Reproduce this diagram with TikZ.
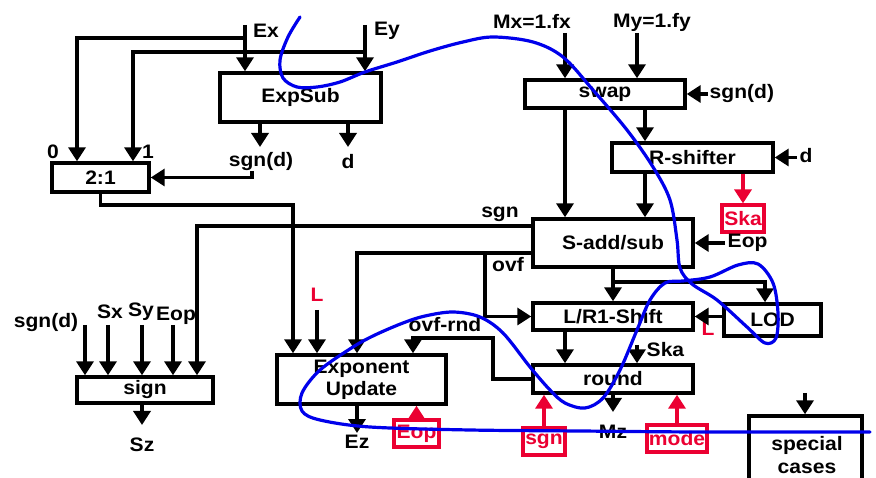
\documentclass[tikz,border=0pt]{standalone}
\usepackage{fontspec}
\setmainfont{Liberation Sans}[FakeStretch=1.08]
\usetikzlibrary{arrows.meta}
\definecolor{myred}{RGB}{235,0,50}
\definecolor{myblue}{RGB}{0,0,235}
\begin{document}
\begin{tikzpicture}[x=1pt,y=-1pt,
  line width=3.4pt,
  font=\fontsize{19.5}{21}\selectfont\bfseries,
  box/.style={draw, rectangle, inner sep=0pt},
  rbox/.style={draw=myred, text=myred, rectangle, inner sep=0pt, line width=3.2pt, minimum height=27pt},
  arr/.style={-{Triangle[width=17pt,length=14pt]}},
  rarr/.style={-{Triangle[width=17pt,length=14pt]}, draw=myred, fill=myred},
  lbl/.style={inner sep=0pt},
  rlbl/.style={inner sep=0pt, text=myred},
  scribble/.style={draw=myblue, line width=3.2pt, line join=round, line cap=round}]
\clip (0,0) rectangle (876,478);
\fill[white] (0,0) rectangle (876,478);
% ---------- boxes ----------
\node[box, minimum width=161pt, minimum height=49pt] (expsub) at (300.5,97.5) {ExpSub};
\node[box, minimum width=97pt, minimum height=29pt] (mux) at (100.5,177.5) {2:1};
\node[box, minimum width=160pt, minimum height=28pt] (swap) at (605,94) {swap};
\node[box, minimum width=161pt, minimum height=29pt] (rshift) at (692.5,157.5) {R-shifter};
\node[box, minimum width=160pt, minimum height=48pt] (sadd) at (613,243) {S-add/sub};
\node[box, minimum width=160pt, minimum height=27pt] (lr1) at (613,316.5) {L/R1-Shift};
\node[box, minimum width=97pt, minimum height=32pt] (lod) at (772.5,320) {LOD};
\node[box, minimum width=160pt, minimum height=28pt] (round) at (613,379) {round};
\node[box, minimum width=169pt, minimum height=49pt, align=center, font=\fontsize{19.5}{22}\selectfont\bfseries] (expupd) at (361.5,379.5) {Exponent\\Update};
\node[box, minimum width=136pt, minimum height=26pt] (sign) at (145,390) {sign};
\node[box, minimum width=113pt, minimum height=84pt] (special) at (805.5,458) {};
\node[lbl, align=center, font=\fontsize{19.5}{23}\selectfont\bfseries] (speciallbl) at (807,455) {special\\cases};
\node[rbox, minimum width=42pt] (skabox) at (743,218.5) {Ska};
\node[rbox, minimum width=45pt] (eopbox) at (416.5,433.5) {Eop};
\node[rbox, minimum width=42pt] (sgnbox) at (544,441.5) {sgn};
\node[rbox, minimum width=60pt] (modebox) at (677,438.5) {mode};
% ---------- labels ----------
\node[lbl] (exl) at (266,31) {Ex};
\node[lbl] (eyl) at (387,31) {Ey};
\node[lbl] (mxl) at (532,21) {Mx=1.fx};
\node[lbl] (myl) at (652,22) {My=1.fy};
\node[lbl, anchor=west] (swsdl) at (708,94) {sgn(d)};
\node[lbl, anchor=west] (rsdl) at (798,156) {d};
\node[lbl] (sdl) at (261,162) {sgn(d)};
\node[lbl] (dl) at (348,162) {d};
\node[lbl] (zerol) at (53,152) {0};
\node[lbl] (onel) at (148,152) {1};
\node[lbl] (sgnl) at (500,214) {sgn};
\node[lbl] (ovfl) at (508,265) {ovf};
\node[lbl, anchor=west] (saeopl) at (726,243) {Eop};
\node[rlbl] (lodl) at (708,329) {L};
\node[lbl, anchor=west] (skal) at (645,350) {Ska};
\node[lbl] (mzl) at (613,432) {Mz};
\node[lbl] (ovfrndl) at (445,325) {ovf-rnd};
\node[rlbl] (ll) at (317,295) {L};
\node[lbl] (ezl) at (357,442) {Ez};
\node[lbl] (szl) at (142,445) {Sz};
\node[lbl] (sgndl) at (46,323) {sgn(d)};
\node[lbl] (sxl) at (110,312) {Sx};
\node[lbl] (syl) at (141,312) {Sy};
\node[lbl] (eopl) at (176,316) {Eop};
% ---------- coordinates ----------
\coordinate (exin) at (245,25);
\coordinate (exbr) at (245,38);
\coordinate (eyin) at (365,25);
\coordinate (eybr) at (365,52);
\coordinate (mux0) at (77,0);
\coordinate (mux1) at (133,0);
\coordinate (sdout) at (260,147);
\coordinate (dout) at (348,147);
\coordinate (sdm) at (252,171);
\coordinate (muxturn) at (100.5,205);
\coordinate (eu1) at (293,0);
\coordinate (sgnline) at (0,226);
\coordinate (sign5) at (197,0);
\coordinate (ovfline) at (0,253);
\coordinate (eu3) at (357,0);
\coordinate (ovfbr) at (485,253);
\coordinate (mxin) at (565,33);
\coordinate (myin) at (637,33);
\coordinate (swsd) at (708,94);
\coordinate (rs1) at (645,0);
\coordinate (rsd) at (797,157.5);
\coordinate (saeop) at (725,243);
\coordinate (lodbr) at (613,282);
\coordinate (lodin) at (765,0);
\coordinate (skain) at (637,345);
\coordinate (mzout) at (613,412);
\coordinate (orc) at (493,338);
\coordinate (eu4) at (413,0);
\coordinate (ez1) at (357,433);
\coordinate (lin) at (317,310);
\coordinate (s1) at (85,325);
\coordinate (s2) at (108,325);
\coordinate (s3) at (142,325);
\coordinate (s4) at (173,325);
\coordinate (szout) at (142,425);
\coordinate (spin) at (805,393);
% ---------- connectors ----------
\draw[arr] (exin) -- (exin |- expsub.north);
\draw[arr] (exbr) -| (mux0 |- mux.north);
\draw[arr] (eyin) -- (eyin |- expsub.north);
\draw[arr] (eybr) -| (mux1 |- mux.north);
\draw[arr] (sdout |- expsub.south) -- (sdout);
\draw[arr] (dout |- expsub.south) -- (dout);
\draw[arr] (sdm) |- (mux.east);
\draw[arr] (mux.south) -- (muxturn) -| (eu1 |- expupd.north);
\draw[arr] (sadd.west |- sgnline) -| (sign5 |- sign.north);
\draw[arr] (sadd.west |- ovfline) -| (eu3 |- expupd.north);
\draw[arr] (ovfbr) |- (lr1.west);
\draw[arr] (mxin) -- (mxin |- swap.north);
\draw[arr] (myin) -- (myin |- swap.north);
\draw[arr] (swsd) -- (swap.east);
\draw[arr] (mxin |- swap.south) -- (mxin |- sadd.north);
\draw[arr] (rs1 |- swap.south) -- (rs1 |- rshift.north);
\draw[arr] (rsd) -- (rshift.east);
\draw[arr] (rs1 |- rshift.south) -- (rs1 |- sadd.north);
\draw[rarr] (rshift.south -| skabox.north) -- (skabox.north);
\draw[arr] (saeop) -- (sadd.east);
\draw[arr] (sadd.south) -- (lr1.north);
\draw[arr] (lodbr) -| (lodin |- lod.north);
\draw[arr] (lod.west |- lr1.east) -- (lr1.east);
\draw[arr] (mxin |- lr1.south) -- (mxin |- round.north);
\draw[arr] (skain) -- (skain |- round.north);
\draw[arr] (round.south) -- (mzout);
\draw[rarr] (modebox.north) -- (modebox.north |- round.south);
\draw[rarr] (sgnbox.north) -- (sgnbox.north |- round.south);
\draw[arr] (round.west) -| (orc) -| (eu4 |- expupd.north);
\draw[rarr] (eopbox.north) -- (eopbox.north |- expupd.south);
\draw[arr] (ez1 |- expupd.south) -- (ez1);
\draw[arr] (lin) -- (lin |- expupd.north);
\draw[arr] (s1) -- (s1 |- sign.north);
\draw[arr] (s2) -- (s2 |- sign.north);
\draw[arr] (s3) -- (s3 |- sign.north);
\draw[arr] (s4) -- (s4 |- sign.north);
\draw[arr] (szout |- sign.south) -- (szout);
\draw[arr] (spin) -- (spin |- special.north);
% ---------- freehand blue stroke ----------
\draw[scribble] plot[smooth, tension=0.55] coordinates {
 (300,17) (288,37) (280,60) (283,78) (297,87) (317,87) (340,82) (365,72)
 (397,62) (430,51) (463,42) (493,37) (533,42) (563,57) (593,90) (627,130)
 (653,167) (670,200) (677,240) (680,268) (692,284) (717,300) (747,327)
 (765,343) (776,338) (778,313) (773,283) (758,264) (738,265) (710,277)
 (683,281) (665,283) (650,300) (637,330) (620,370) (603,398) (585,408)
 (565,403) (550,390) (530,367) (503,333) (480,317) (453,312) (425,316)
 (403,323) (375,335) (353,347) (320,370) (302,393) (302,411) (320,420)
 (370,427) (470,430) (580,431) (700,432) (870,432)};
\end{tikzpicture}
\end{document}
